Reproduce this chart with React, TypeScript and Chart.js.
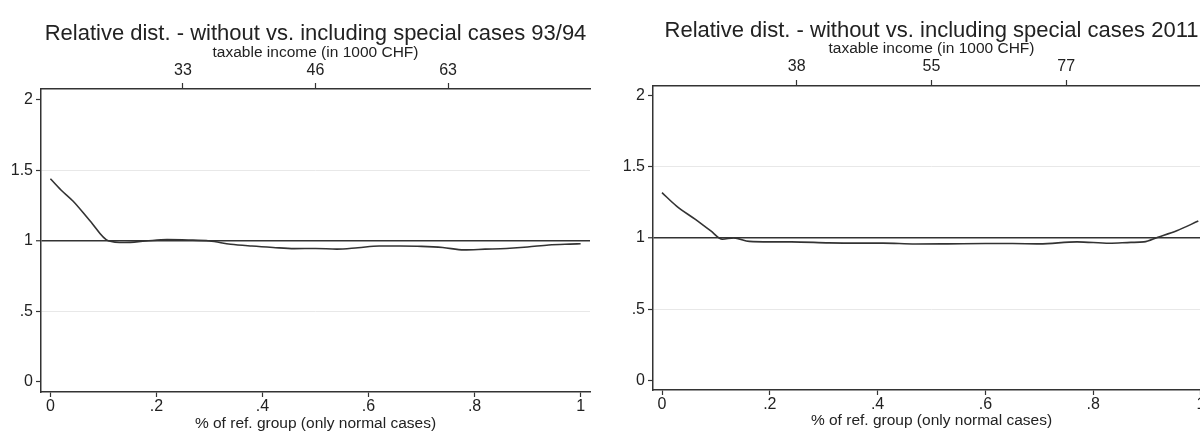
import React, { useEffect, useRef } from "react";
import { Chart, registerables } from "chart.js";

Chart.register(...registerables);

const FONT = "'Liberation Sans', Arial, Helvetica, sans-serif";
const INK = "#222222";
const AXIS = "#333333";

// ---- tick definitions ----
const xTickValues = [0, 0.2, 0.4, 0.6, 0.8, 1];
const xTickLabels = ["0", ".2", ".4", ".6", ".8", "1"];
const yTickValues = [0, 0.5, 1, 1.5, 2];
const yTickLabels = ["0", ".5", "1", "1.5", "2"];
const topTickPositions = [0.25, 0.5, 0.75];
const incomeTicks9394 = ["33", "46", "63"];
const incomeTicks2011 = ["38", "55", "77"];

// ---- series: 93/94 ----
const share9394 = [0, 0.02, 0.043, 0.075, 0.109, 0.14, 0.18, 0.22, 0.26, 0.3, 0.34, 0.38, 0.42, 0.46, 0.5, 0.54, 0.58, 0.62, 0.66, 0.7, 0.74, 0.78, 0.82, 0.86, 0.9, 0.94, 0.98, 1.0];
const ratio9394 = [1.44, 1.36, 1.28, 1.14, 1.0, 0.987, 0.998, 1.008, 1.005, 0.998, 0.975, 0.962, 0.952, 0.944, 0.945, 0.94, 0.95, 0.962, 0.962, 0.96, 0.952, 0.935, 0.94, 0.945, 0.955, 0.97, 0.976, 0.978];

// ---- series: 2011 ----
const share2011 = [0, 0.027, 0.062, 0.09, 0.112, 0.133, 0.162, 0.2, 0.24, 0.31, 0.36, 0.41, 0.47, 0.53, 0.6, 0.65, 0.7, 0.77, 0.83, 0.87, 0.894, 0.92, 0.955, 0.995];
const ratio2011 = [1.317, 1.223, 1.129, 1.05, 0.99, 1.0, 0.975, 0.972, 0.972, 0.965, 0.963, 0.963, 0.957, 0.958, 0.96, 0.96, 0.958, 0.972, 0.962, 0.968, 0.972, 1.005, 1.05, 1.118];

type Geo = {
  left: number;
  width: number;
  yW: number;
  padRight: number;
  titleTop: number;
  topH: number;
  subPad: number;
  topTickPad: number;
  bottomH: number;
  bottomTitlePad: number;
  xMin: number;
  xMax: number;
  yMin: number;
  yMax: number;
};

function Panel({ title, share, ratio, income, geo }: { title: string; share: number[]; ratio: number[]; income: string[]; geo: Geo }) {
  const ref = useRef<HTMLCanvasElement | null>(null);
  useEffect(() => {
    if (!ref.current) return;
    const tickFont = { family: FONT, size: 16 };
    const chart = new Chart(ref.current, {
      type: "line",
      data: {
        datasets: [
          {
            data: share.map((x, i) => ({ x, y: ratio[i] })),
            borderColor: AXIS,
            borderWidth: 1.6,
            pointRadius: 0,
            tension: 0.3,
            cubicInterpolationMode: "monotone",
            fill: false,
          },
        ],
      },
      options: {
        responsive: false,
        animation: false,
        layout: { padding: { left: 0, right: geo.padRight, top: 0, bottom: 0 } },
        plugins: {
          legend: { display: false },
          tooltip: { enabled: false },
          title: {
            display: true,
            text: title,
            fullSize: false,
            color: INK,
            font: { family: FONT, size: 22, weight: "normal", lineHeight: 1 },
            padding: { top: geo.titleTop, bottom: 0 },
          },
        },
        scales: {
          x: {
            type: "linear",
            position: "bottom",
            min: geo.xMin,
            max: geo.xMax,
            afterBuildTicks: (s: any) => {
              s.ticks = xTickValues.map((v) => ({ value: v }));
            },
            afterFit: (s: any) => {
              s.height = geo.bottomH;
            },
            ticks: {
              callback: (_v: any, i: number) => xTickLabels[i],
              color: INK,
              font: tickFont,
              padding: 0,
              maxRotation: 0,
              autoSkip: false,
            },
            grid: { drawOnChartArea: false, drawTicks: true, tickLength: 5, tickColor: AXIS, tickWidth: 1.2 },
            border: { display: true, color: AXIS, width: 1.5 },
            title: {
              display: true,
              text: "% of ref. group (only normal cases)",
              color: INK,
              font: { family: FONT, size: 15.5, lineHeight: 0.95 },
              padding: { top: 0, bottom: geo.bottomTitlePad },
            },
          },
          x2: {
            type: "linear",
            position: "top",
            min: geo.xMin,
            max: geo.xMax,
            afterBuildTicks: (s: any) => {
              s.ticks = topTickPositions.map((v) => ({ value: v }));
            },
            afterFit: (s: any) => {
              s.height = geo.topH;
            },
            ticks: {
              callback: (_v: any, i: number) => income[i],
              color: INK,
              font: tickFont,
              padding: geo.topTickPad,
              maxRotation: 0,
              autoSkip: false,
            },
            grid: { drawOnChartArea: false, drawTicks: true, tickLength: 6, tickColor: AXIS, tickWidth: 1.2 },
            border: { display: true, color: AXIS, width: 1.5 },
            title: {
              display: true,
              text: "taxable income (in 1000 CHF)",
              color: INK,
              font: { family: FONT, size: 15.5, lineHeight: 0.8 },
              padding: { top: geo.subPad, bottom: 0 },
            },
          },
          y: {
            type: "linear",
            position: "left",
            min: geo.yMin,
            max: geo.yMax,
            afterBuildTicks: (s: any) => {
              s.ticks = yTickValues.map((v) => ({ value: v }));
            },
            afterFit: (s: any) => {
              s.width = geo.yW;
            },
            ticks: {
              callback: (_v: any, i: number) => yTickLabels[i],
              color: INK,
              font: tickFont,
              padding: 3,
              autoSkip: false,
            },
            grid: {
              drawOnChartArea: true,
              drawTicks: true,
              tickLength: 5,
              tickColor: AXIS,
              tickWidth: 1.2,
              color: (ctx: any) => {
                const v = ctx.tick ? ctx.tick.value : null;
                if (v === 1) return AXIS;
                if (v === 0.5 || v === 1.5) return "#e8e8e8";
                return "rgba(0,0,0,0)";
              },
              lineWidth: (ctx: any) => (ctx.tick && ctx.tick.value === 1 ? 1.5 : 1),
            },
            border: { display: true, color: AXIS, width: 1.5 },
          },
        },
      } as any,
    });
    return () => chart.destroy();
  }, []);
  return (
    <canvas
      ref={ref}
      width={geo.width}
      height={432}
      style={{ position: "absolute", left: geo.left, top: 0, width: geo.width, height: 432 }}
    />
  );
}

const geoLeft: Geo = {
  left: 0,
  width: 600,
  yW: 41,
  padRight: 10,
  titleTop: 23,
  topH: 44,
  subPad: 1.5,
  topTickPad: 3,
  bottomH: 40,
  bottomTitlePad: 1,
  xMin: -0.0177,
  xMax: 1.0177,
  yMin: -0.073,
  yMax: 2.076,
};

const geoRight: Geo = {
  left: 600,
  width: 620,
  yW: 53,
  padRight: 10,
  titleTop: 20,
  topH: 44,
  subPad: 0.5,
  topTickPad: 4,
  bottomH: 42,
  bottomTitlePad: 4,
  xMin: -0.0167,
  xMax: 1.0167,
  yMin: -0.067,
  yMax: 2.065,
};

export default function App() {
  return (
    <div style={{ position: "fixed", left: 0, top: 0, width: 1200, height: 432, overflow: "hidden", background: "#ffffff" }}>
      <Panel title="Relative dist. - without vs. including special cases 93/94" share={share9394} ratio={ratio9394} income={incomeTicks9394} geo={geoLeft} />
      <Panel title="Relative dist. - without vs. including special cases 2011" share={share2011} ratio={ratio2011} income={incomeTicks2011} geo={geoRight} />
    </div>
  );
}
